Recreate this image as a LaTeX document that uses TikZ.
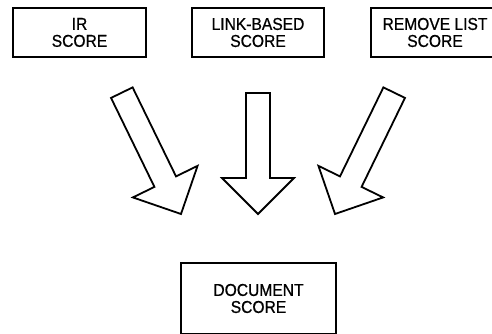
\documentclass[tikz,border=0pt]{standalone}
\usepackage{graphicx}
\usepackage{fontspec}
\setmainfont{Liberation Sans}[FakeBold=0.8]
\newcommand\tallt[1]{\scalebox{1}[1.1]{#1}}
\begin{document}
\begin{tikzpicture}[x=1pt,y=1pt,
  scorebox/.style={draw=black,line width=1.8pt,minimum height=49pt,align=center,
    font=\fontsize{15.6}{17}\selectfont,inner sep=0pt},
  bigarrow/.style={draw=black,line width=1.8pt,fill=white,line join=miter}]
\useasboundingbox (0,0) rectangle (492,334);
% boxes (y measured upward: y = 334 - pixel row)
\node[scorebox,minimum width=133pt] (ir) at (79.5,301.5) {\tallt{IR}\\\tallt{SCORE}};
\node[scorebox,minimum width=132pt] (link) at (258,301.5) {\tallt{LINK-BASED}\\\tallt{SCORE}};
\node[scorebox,minimum width=128pt] (rem) at (435,301.5) {\tallt{REMOVE LIST}\\\tallt{SCORE}};
\node[scorebox,minimum width=155pt,minimum height=71pt] (doc) at (258.5,35.5) {\tallt{DOCUMENT}\\\tallt{SCORE}};
% block arrows
\coordinate (tipL) at (181,120);
\coordinate (tipM) at (258,120);
\coordinate (tipR) at (335,120);
\draw[bigarrow,shift={(tipL)},rotate=26]
  (0,0) -- (-36,36) -- (-12,36) -- (-12,135) -- (12,135) -- (12,36) -- (36,36) -- cycle;
\draw[bigarrow,shift={(tipM)}]
  (0,0) -- (-36,36) -- (-12,36) -- (-12,121) -- (12,121) -- (12,36) -- (36,36) -- cycle;
\draw[bigarrow,shift={(tipR)},rotate=-26]
  (0,0) -- (-36,36) -- (-12,36) -- (-12,135) -- (12,135) -- (12,36) -- (36,36) -- cycle;
\end{tikzpicture}
\end{document}
